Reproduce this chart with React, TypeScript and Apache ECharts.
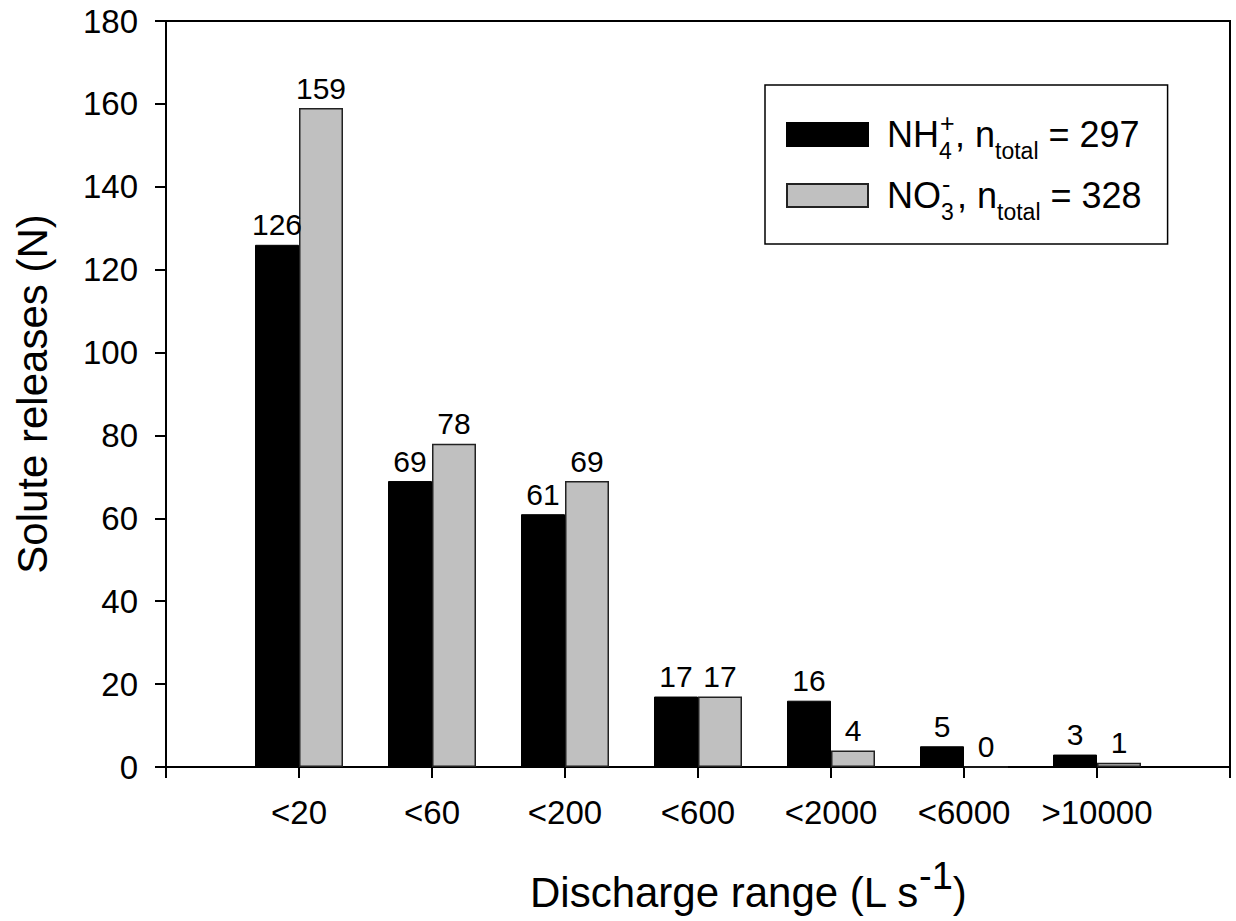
import React, { useEffect, useRef } from "react";
import * as echarts from "echarts";

const categories = ["<20", "<60", "<200", "<600", "<2000", "<6000", ">10000"];
const nh4Values = [126, 69, 61, 17, 16, 5, 3];
const no3Values = [159, 78, 69, 17, 4, 0, 1];
const yTicks = { min: 0, max: 180, interval: 20 };
const seriesNames = ["NH4+", "NO3-"];
const totals = [297, 328];

const FONT = "'Liberation Sans', Arial, sans-serif";

export default function App() {
  const ref = useRef<HTMLDivElement>(null);
  useEffect(() => {
    if (!ref.current) return;
    const chart = echarts.init(ref.current, null, { renderer: "svg" });
    // pad an empty slot on both ends so ticks sit at the axis ends
    const axisCats = ["", ...categories, ""];
    const pad = (arr: number[]) => ["-", ...arr, "-"];
    const legendRich = {
      m: { fontSize: 36, fontFamily: FONT, color: "#000" },
      sub: { fontSize: 23, fontFamily: FONT, color: "#000", padding: [32, 0, 0, 0] },
      subS: { fontSize: 23, fontFamily: FONT, color: "#000", padding: [32, 0, 0, 0], width: 1 },
      sup: { fontSize: 25, fontFamily: FONT, color: "#000", padding: [0, 0, 24, 0], width: 15 },
      gap: { fontSize: 36, fontFamily: FONT, width: 14 },
    };
    const labelStyle = {
      show: true,
      position: "top",
      distance: 5,
      fontSize: 30,
      fontFamily: FONT,
      color: "#000",
    };
    chart.setOption({
      animation: false,
      textStyle: { fontFamily: FONT },
      grid: {
        left: 166,
        right: 6,
        top: 21,
        bottom: 154,
        show: true,
        borderColor: "#000",
        borderWidth: 2,
        backgroundColor: "transparent",
      },
      legend: {
        orient: "vertical",
        left: 765,
        top: 85,
        padding: [25, 26, 21, 21],
        itemGap: 9,
        itemWidth: 81,
        itemHeight: 23,
        icon: "rect",
        selectedMode: false,
        borderColor: "#000",
        borderWidth: 1.5,
        backgroundColor: "#fff",
        data: seriesNames,
        formatter: (name: string) => {
          const i = seriesNames.indexOf(name);
          if (i === 0)
            return `{gap|}{m|NH}{subS|4}{sup|+}{m|, n}{sub|total}{m| = ${totals[0]}}`;
          return `{gap|}{m|NO}{subS|3}{sup|-}{m|, n}{sub|total}{m| = ${totals[1]}}`;
        },
        textStyle: { color: "#000", fontSize: 36, fontFamily: FONT, rich: legendRich },
      },
      xAxis: {
        type: "category",
        data: axisCats,
        boundaryGap: false,
        axisLine: { lineStyle: { color: "#000", width: 2 } },
        axisTick: { show: true, interval: 0, length: 11, inside: false, lineStyle: { color: "#000", width: 2 } },
        axisLabel: { interval: 0, fontSize: 33, color: "#000", margin: 29, fontFamily: FONT },
        splitLine: { show: false },
        name: "{m|Discharge range (L s}{sup|-1}{m|)}",
        nameLocation: "middle",
        nameGap: 90,
        nameTextStyle: {
          fontSize: 42,
          color: "#000",
          fontFamily: FONT,
          padding: [0, 0, 0, 100],
          rich: {
            m: { fontSize: 42, fontFamily: FONT, color: "#000" },
            sup: { fontSize: 38, fontFamily: FONT, color: "#000", padding: [0, 0, 33, 0] },
          },
        },
      },
      yAxis: {
        type: "value",
        min: yTicks.min,
        max: yTicks.max,
        interval: yTicks.interval,
        axisLine: { show: true, lineStyle: { color: "#000", width: 2 } },
        axisTick: { show: true, length: 11, inside: false, lineStyle: { color: "#000", width: 2 } },
        axisLabel: { fontSize: 33, color: "#000", margin: 28, fontFamily: FONT },
        splitLine: { show: false },
        name: "Solute releases (N)",
        nameLocation: "middle",
        nameGap: 113,
        nameTextStyle: { fontSize: 42, color: "#000", fontFamily: FONT },
      },
      series: [
        {
          name: seriesNames[0],
          type: "bar",
          data: pad(nh4Values),
          barWidth: 44,
          barGap: "0%",
          itemStyle: { color: "#000", borderColor: "#000", borderWidth: 1 },
          label: labelStyle,
        },
        {
          name: seriesNames[1],
          type: "bar",
          data: pad(no3Values),
          barWidth: 44,
          barGap: "0%",
          itemStyle: { color: "#c0c0c0", borderColor: "#222", borderWidth: 1.5 },
          label: labelStyle,
        },
      ],
    });
    return () => chart.dispose();
  }, []);
  return (
    <div
      ref={ref}
      style={{ position: "absolute", left: 0, top: 0, width: 1236, height: 921, background: "#fff" }}
    />
  );
}
